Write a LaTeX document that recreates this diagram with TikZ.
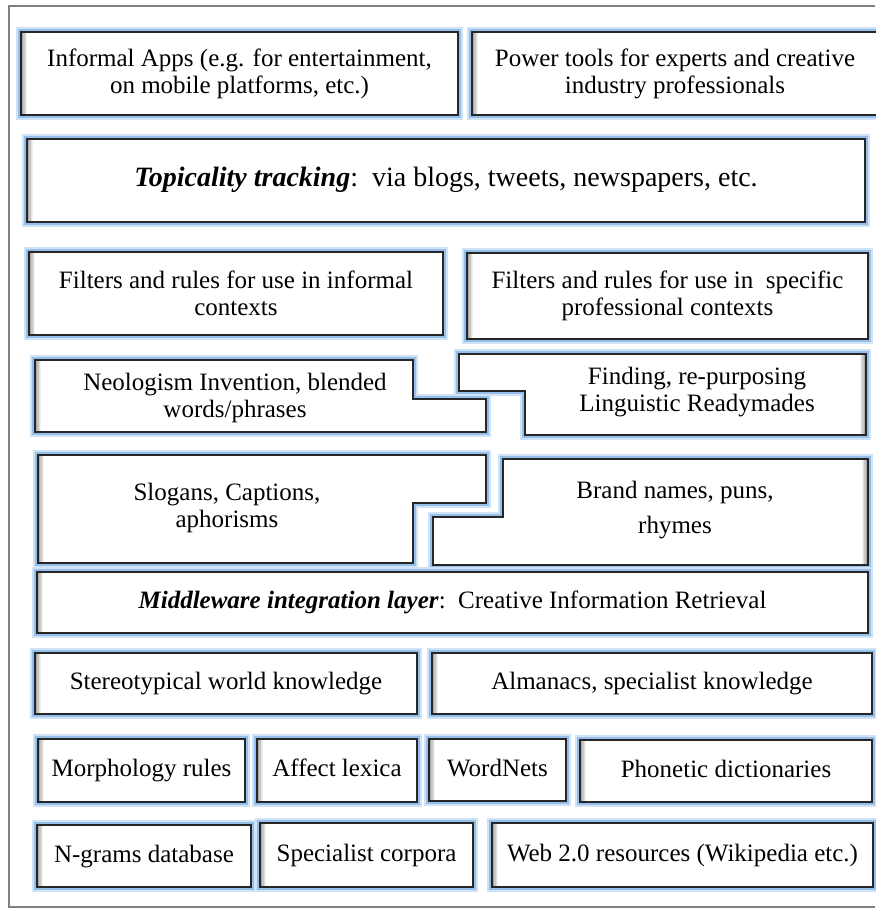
\documentclass[tikz,border=0pt]{standalone}
\usepackage{fontspec}
\setmainfont{Liberation Serif}
\definecolor{glow}{RGB}{150,190,235}
\definecolor{framegray}{RGB}{128,128,128}

\begin{document}
\begin{tikzpicture}[
        x=0.5pt, y=-0.5pt,
        font=\fontsize{12.5}{13.5}\selectfont,
        layer/.style={draw=black!85, line width=0.9pt, fill=white, inner sep=0pt, align=center,
            preaction={draw=glow!45, line width=5pt}, preaction={draw=glow, line width=2.6pt}},
        oneline/.style={text height=9pt, text depth=3pt},
        shadeleft/.style={path picture={
            \foreach \i/\c in {0/50,1/35,2/22,3/12,4/5}
                \draw[black!\c, line width=0.6pt] ([xshift=\i*0.6pt+0.3pt]path picture bounding box.north west) -- ([xshift=\i*0.6pt+0.3pt]path picture bounding box.south west);}},
        shaderight/.style={path picture={
            \foreach \i/\c in {0/50,1/35,2/22,3/12,4/5}
                \draw[black!\c, line width=0.6pt] ([xshift=-\i*0.6pt-0.3pt]path picture bounding box.north east) -- ([xshift=-\i*0.6pt-0.3pt]path picture bounding box.south east);}},
        txt/.style={align=center}
    ]
        \useasboundingbox (0,0) rectangle (875,909);
        \draw[framegray, line width=1pt] (875,6) -- (9,6) -- (9,907) -- (875,907);

        % Applications
        \node[layer, shadeleft, minimum width=218.5pt, minimum height=41.5pt] (apps) at (239.5,73.5) {Informal Apps (e.g. for entertainment,\\ on mobile platforms, etc.)};
        \node[layer, shadeleft, minimum width=203pt, minimum height=41.5pt] (power) at (675,73.5) {Power tools for experts and creative\\ industry professionals};

        % Topicality
        \node[layer, shadeleft, oneline, minimum width=419pt, minimum height=41.5pt, font=\fontsize{14}{15}\selectfont] (topical) at (446,180.5) {\textbf{\textit{Topicality tracking}}:\ \ via blogs, tweets, newspapers, etc.};

        % Filters
        \node[layer, shadeleft, minimum width=207pt, minimum height=41.5pt] (filtinf) at (236,293.5) {Filters and rules for use in informal\\ contexts};
        \node[layer, shadeleft, minimum width=200.5pt, minimum height=43pt] (filtpro) at (667.5,296) {Filters and rules for use in \ specific\\ professional contexts};

        % Generation
        \draw[layer, shadeleft] (35,360) -- (413,360) -- (413,399) -- (486,399) -- (486,432) -- (35,432) -- cycle;
        \node[txt] (neolog) at (235,398) {Neologism Invention, blended\\ words/phrases};
        \draw[layer, shaderight] (459,354) -- (866,354) -- (866,435) -- (525,435) -- (525,391) -- (459,391) -- cycle;
        \node[txt] (finding) at (697,392) {Finding, re-purposing\\ Linguistic Readymades};
        \draw[layer, shadeleft] (38,455) -- (486,455) -- (486,503) -- (413,503) -- (413,563) -- (38,563) -- cycle;
        \node[txt] (slogans) at (227,508) {Slogans, Captions,\\ aphorisms};
        \draw[layer, shaderight] (503,459) -- (868,459) -- (868,565) -- (433,565) -- (433,517) -- (503,517) -- cycle;
        \node[txt] (brands) at (675,510) {Brand names, puns,\\[4pt] rhymes};

        % Middleware
        \node[layer, shadeleft, oneline, minimum width=415.5pt, minimum height=30.5pt] (middle) at (452.5,602.5) {\textbf{\textit{Middleware integration layer}}:\ \ Creative Information Retrieval};

        % Resources
        \node[layer, shadeleft, oneline, minimum width=191pt, minimum height=30.5pt] (stereo) at (226,683.5) {Stereotypical world knowledge};
        \node[layer, shadeleft, oneline, minimum width=220pt, minimum height=30.5pt] (almanac) at (652,683.5) {Almanacs, specialist knowledge};
        \node[layer, shadeleft, oneline, minimum width=103.5pt, minimum height=31.5pt] (morph) at (141.5,770.5) {Morphology rules};
        \node[layer, shadeleft, oneline, minimum width=80pt, minimum height=31.5pt] (affect) at (337,770.5) {Affect lexica};
        \node[layer, shadeleft, oneline, minimum width=68.5pt, minimum height=31pt] (wordnet) at (497.5,770) {WordNets};
        \node[layer, shadeleft, oneline, minimum width=146pt, minimum height=31pt] (phonetic) at (726,771) {Phonetic dictionaries};
        \node[layer, shadeleft, oneline, minimum width=107pt, minimum height=31pt] (ngrams) at (144,856) {N-grams database};
        \node[layer, shadeleft, oneline, minimum width=106.5pt, minimum height=32pt] (corpora) at (366.5,855) {Specialist corpora};
        \node[layer, shadeleft, oneline, minimum width=190.5pt, minimum height=32pt] (web) at (682.5,855) {Web 2.0 resources (Wikipedia etc.)};
    \end{tikzpicture}
\end{document}
